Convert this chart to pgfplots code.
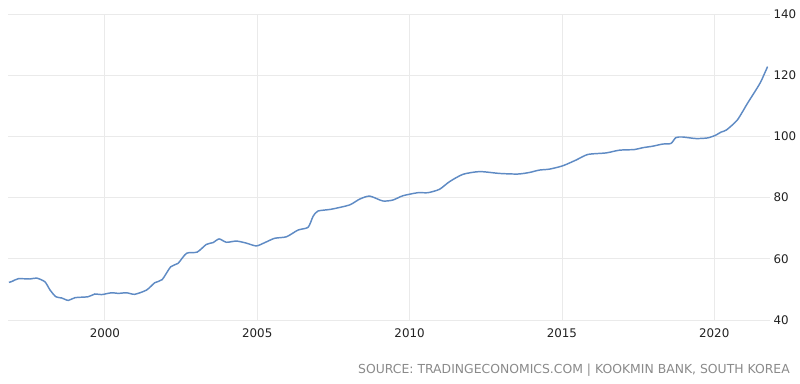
\documentclass[border=0pt]{standalone}
\usepackage{pgfplots}
\pgfplotsset{compat=1.18}
\usepackage{fontspec}
\setmainfont{DejaVu Sans}
\definecolor{linec}{HTML}{5F8BC4}
\definecolor{gridc}{HTML}{EAEAEA}
\definecolor{srcc}{HTML}{8A8A8A}
\definecolor{tickc}{HTML}{222222}
\begin{document}
\begin{tikzpicture}
\useasboundingbox (0pt,0pt) rectangle (600pt,287.25pt);
\begin{axis}[
  at={(6pt,47.25pt)}, anchor=south west,
  scale only axis,
  width=571.5pt, height=229.5pt,
  xmin=1996.82, xmax=2021.83,
  ymin=40, ymax=140,
  xtick={2000,2005,2010,2015,2020},
  ytick={40,60,80,100,120,140},
  xticklabels={2000,2005,2010,2015,2020},
  yticklabel pos=right,
  grid=major,
  major grid style={gridc, line width=0.6pt},
  axis line style={draw=none},
  major tick length=0pt,
  tick label style={font=\fontsize{8.9}{10}\selectfont, text=tickc},
  /pgf/number format/assume math mode=true,
  xticklabel style={anchor=north, inner sep=0pt, yshift=-6pt},
  yticklabel style={anchor=west, inner sep=0pt, xshift=2.5pt},
  clip=false,
]
\addplot[linec, line width=1.1pt, smooth, tension=0.4] table {
1996.85 52.3
1996.95 52.6
1997.16 53.5
1997.54 53.4
1997.76 53.7
1998.03 52.5
1998.20 49.8
1998.39 47.6
1998.58 47.2
1998.80 46.4
1999.02 47.3
1999.45 47.6
1999.67 48.5
1999.89 48.3
2000.22 48.9
2000.44 48.7
2000.71 48.9
2000.98 48.4
2001.37 49.8
2001.64 52.2
2001.88 53.2
2002.16 57.4
2002.40 58.5
2002.68 61.8
2003.03 62.2
2003.33 64.7
2003.55 65.3
2003.75 66.5
2003.99 65.4
2004.32 65.8
2004.65 65.1
2004.97 64.2
2005.25 65.3
2005.57 66.7
2005.96 67.2
2006.34 69.4
2006.67 70.3
2006.83 73.8
2006.99 75.6
2007.43 76.2
2008.03 77.6
2008.36 79.5
2008.69 80.5
2009.12 78.9
2009.45 79.2
2009.78 80.6
2010.27 81.6
2010.60 81.6
2010.98 82.7
2011.31 85.2
2011.75 87.6
2012.30 88.5
2012.95 87.9
2013.55 87.7
2013.93 88.2
2014.26 89.0
2014.59 89.3
2015.03 90.4
2015.47 92.3
2015.85 94.1
2016.45 94.6
2016.89 95.5
2017.38 95.7
2017.65 96.3
2017.98 96.8
2018.31 97.5
2018.58 97.7
2018.74 99.6
2018.96 99.8
2019.40 99.3
2019.78 99.5
2020.05 100.4
2020.22 101.4
2020.40 102.1
2020.76 105.4
2021.09 110.8
2021.37 115.2
2021.53 117.9
2021.75 122.8
};
\end{axis}
\node[anchor=east, inner sep=0pt, text=srcc, font=\fontsize{9.3}{11}\selectfont] at (592.5pt,9.75pt) {SOURCE: TRADINGECONOMICS.COM | KOOKMIN BANK, SOUTH KOREA};
\end{tikzpicture}
\end{document}
